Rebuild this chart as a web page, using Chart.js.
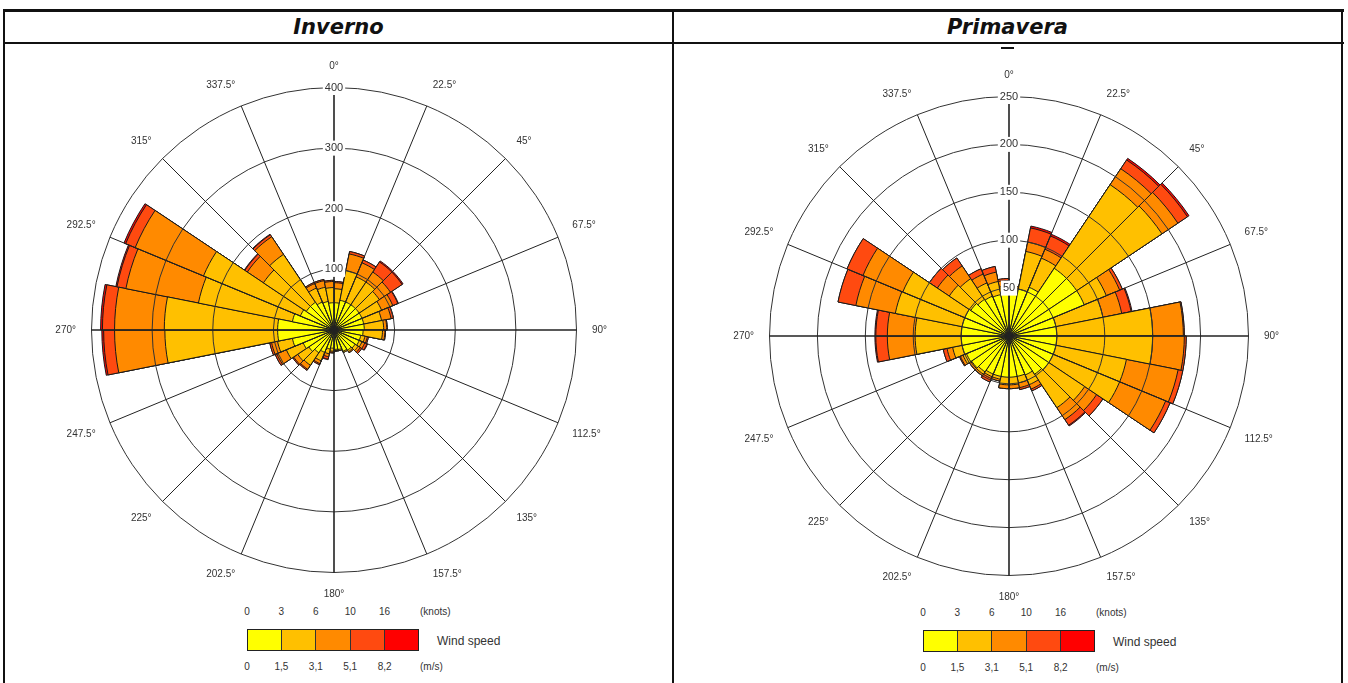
<!DOCTYPE html>
<html>
<head>
<meta charset="utf-8">
<title>Rosa dos ventos - Inverno / Primavera</title>
<script src="https://cdn.jsdelivr.net/npm/chart.js@4.4.1/dist/chart.umd.min.js"></script>
<style>
  html, body { margin: 0; padding: 0; background: #fff; }
  body { width: 1348px; height: 683px; position: relative; overflow: hidden;
         font-family: "Liberation Sans", Arial, sans-serif; color: #333; }
  .rule { position: absolute; background: #111; }
  .head { position: absolute; top: 12px; height: 30px; line-height: 30px; text-align: center;
          font-family: "DejaVu Sans", sans-serif; font-weight: bold; font-style: italic;
          font-size: 21px; color: #111; }
  canvas { position: absolute; }
  .lg { position: absolute; font-size: 10px; line-height: 12px; white-space: nowrap; color: #333; }
  .lg.c { transform: translateX(-50%); }
  .ws { font-size: 12px; line-height: 14px; }
  .bar { position: absolute; height: 22px; box-sizing: border-box; border: 1px solid #222; display: flex; }
  .bar div { flex: 1; border-left: 1px solid #333; }
  .bar div:first-child { border-left: none; }
</style>
</head>
<body>
<div class="rule" style="left:3px;top:9px;width:1341px;height:3px"></div>
<div class="rule" style="left:3px;top:42px;width:1341px;height:2px"></div>
<div class="rule" style="left:3px;top:9px;width:2px;height:680px"></div>
<div class="rule" style="left:672px;top:9px;width:2px;height:680px"></div>
<div class="rule" style="left:1341px;top:9px;width:2px;height:680px"></div>
<div class="head" style="left:5px;width:667px">Inverno</div>
<div class="head" style="left:674px;width:667px">Primavera</div>
<div class="rule" style="left:1001px;top:47px;width:13px;height:2px"></div>

<canvas id="roseInverno" width="620" height="540" style="left:24px;top:60px"></canvas>
<canvas id="rosePrimavera" width="620" height="534" style="left:699px;top:69px"></canvas>
<div id="legendInverno"></div>
<div id="legendPrimavera"></div>

<script>
Chart.defaults.font.family = 'Liberation Sans';

// direction labels every 22.5 deg, the rose itself has 32 sectors of 11.25 deg
var dirLabels = ['0°', '22.5°', '45°', '67.5°', '90°', '112.5°', '135°', '157.5°',
                 '180°', '202.5°', '225°', '247.5°', '270°', '292.5°', '315°', '337.5°'];
var speedColors = ['#ffff00', '#ffc000', '#ff8a00', '#ff4a10', '#ff0000'];
var knotTicks = ['0', '3', '6', '10', '16'];
var msTicks = ['0', '1,5', '3,1', '5,1', '8,2'];

// Inverno - counts per speed class, sector 0 = 0..11.25 deg, clockwise
var invC1 = [45, 50, 50, 50, 50, 50, 50, 50, 48, 45, 45, 42, 40, 38, 33, 32, 30, 32, 40, 45, 50, 55, 70, 93, 93, 70, 60, 55, 55, 50, 48, 45];
var invC2 = [23, 50, 45, 45, 40, 35, 30, 32, 32, 7, 5, 6, 3, 2, 2, 2, 5, 8, 15, 25, 22, 30, 25, 186, 187, 158, 173, 85, 95, 25, 24, 25];
var invC3 = [10, 28, 25, 20, 22, 20, 16, 5, 4, 4, 5, 4, 2, 0, 0, 1, 2, 5, 5, 8, 8, 17, 10, 83, 82, 122, 122, 32, 35, 8, 11, 10];
var invC4 = [2, 4, 5, 20, 23, 9, 4, 1, 1, 2, 4, 3, 0, 0, 0, 0, 1, 4, 2, 2, 2, 3, 3, 18, 20, 15, 17, 5, 4, 2, 2, 2];
var invC5 = [0, 0, 0, 2, 2, 1, 0, 0, 0, 0, 1, 0, 0, 0, 0, 0, 0, 1, 0, 0, 0, 0, 0, 3, 3, 2, 3, 1, 1, 0, 0, 0];

// Primavera
var priC1 = [45, 50, 55, 85, 85, 85, 50, 50, 50, 50, 50, 50, 48, 44, 43, 43, 43, 43, 43, 45, 47, 48, 50, 50, 50, 50, 50, 48, 46, 45, 44, 44];
var priC2 = [5, 40, 33, 105, 107, 25, 50, 100, 100, 75, 75, 45, 42, 11, 7, 8, 8, 3, 3, 3, 1, 4, 10, 48, 48, 71, 70, 27, 26, 15, 14, 8];
var priC3 = [2, 10, 10, 20, 20, 15, 20, 32, 33, 55, 52, 15, 15, 5, 5, 4, 4, 2, 2, 2, 2, 3, 6, 29, 29, 42, 45, 15, 16, 10, 10, 6];
var priC4 = [0, 15, 15, 11, 12, 3, 10, 1, 2, 5, 5, 8, 7, 2, 2, 0, 0, 0, 4, 0, 0, 1, 4, 12, 12, 19, 18, 10, 10, 6, 6, 2];
var priC5 = [0, 2, 2, 2, 2, 0, 1, 0, 0, 0, 0, 0, 1, 0, 0, 0, 0, 0, 0, 0, 0, 0, 0, 1, 1, 0, 0, 0, 0, 0, 0, 0];

var sectorLabels = [];
dirLabels.forEach(function (d) { sectorLabels.push(d, ''); });

// running sums so the classes look stacked (smallest drawn last = on top)
function stackUp(classes) {
    var run = classes[0].map(function () { return 0; });
    return classes.map(function (c) {
        run = run.map(function (v, i) { return v + c[i]; });
        return run;
    });
}

function drawRose(id, classes, maxR, step) {
    var sums = stackUp(classes);
    return new Chart(document.getElementById(id), {
        type: 'polarArea',
        data: {
            labels: sectorLabels,
            datasets: sums.map(function (d, k) {
                return {
                    data: d,
                    backgroundColor: speedColors[k],
                    borderColor: '#1a1a1a',
                    borderWidth: 1
                };
            })
        },
        options: {
            responsive: false,
            animation: false,
            events: [],
            plugins: { legend: { display: false }, tooltip: { enabled: false } },
            scales: {
                r: {
                    min: 0,
                    max: maxR,
                    startAngle: 0,
                    ticks: {
                        stepSize: step, z: 2, color: '#333',
                        font: { size: 11 },
                        backdropColor: '#fff', backdropPadding: 2
                    },
                    grid: { z: 1, circular: true, color: '#333', lineWidth: 1 },
                    angleLines: {
                        display: true,
                        color: '#222',
                        lineWidth: function (c) { return c.index % 2 ? 0 : (c.index % 8 === 0 ? 1.6 : 1); }
                    },
                    pointLabels: { display: true, padding: 8, color: '#333', font: { size: 10 } }
                }
            }
        }
    });
}

function drawLegend(id, left, top) {
    var el = document.getElementById(id);
    var step = 34.4;
    var html = '';
    knotTicks.forEach(function (t, i) {
        html += '<div class="lg c" style="left:' + (left + i * step) + 'px;top:' + (top - 23) + 'px">' + t + '</div>';
    });
    html += '<div class="lg" style="left:' + (left + 173) + 'px;top:' + (top - 23) + 'px">(knots)</div>';
    html += '<div class="bar" style="left:' + left + 'px;top:' + top + 'px;width:' + (step * 5) + 'px">';
    speedColors.forEach(function (c) { html += '<div style="background:' + c + '"></div>'; });
    html += '</div>';
    html += '<div class="lg ws" style="left:' + (left + 190) + 'px;top:' + (top + 5) + 'px">Wind speed</div>';
    msTicks.forEach(function (t, i) {
        html += '<div class="lg c" style="left:' + (left + i * step) + 'px;top:' + (top + 32) + 'px">' + t + '</div>';
    });
    html += '<div class="lg" style="left:' + (left + 173) + 'px;top:' + (top + 32) + 'px">(m/s)</div>';
    el.innerHTML = html;
}

drawRose('roseInverno', [invC1, invC2, invC3, invC4, invC5], 400, 100);
drawRose('rosePrimavera', [priC1, priC2, priC3, priC4, priC5], 250, 50);
drawLegend('legendInverno', 247, 629);
drawLegend('legendPrimavera', 923, 630);
</script>
</body>
</html>
